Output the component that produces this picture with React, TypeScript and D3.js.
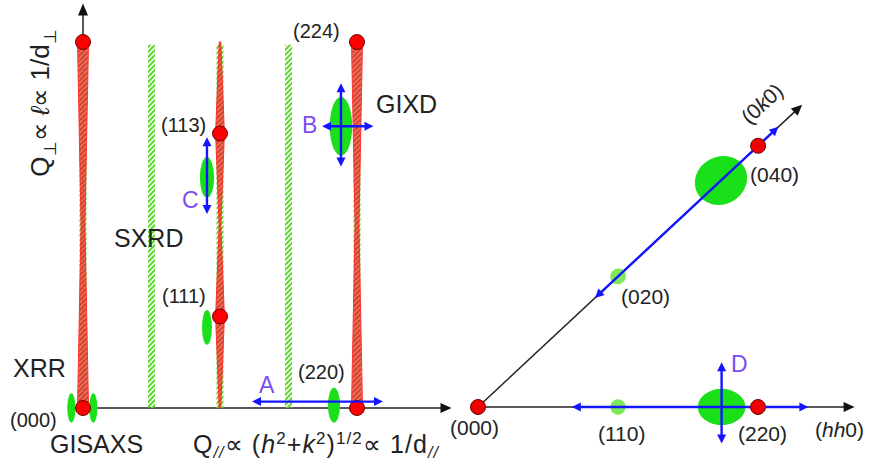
import * as d3 from 'd3';

const W = 871;
const H = 466;

// ---- left panel: reciprocal space, h of (hhℓ) along Q//, ℓ along Q⊥
const rodH = [0, 1, 2]; // crystal truncation rods (red)
const sxrdRodH = [0, 0.5, 1, 1.5, 2]; // superstructure rods (green hatched)
// relative rod intensity [ℓ, I] per rod
const rodProfiles = [
  [[0, 1], [2, 0.35], [4, 1]],
  [[0, 0.15], [1, 0.8], [2, 0.15], [3, 0.8], [4, 0.15]],
  [[0, 1], [2, 0.35], [4, 1]],
];
const braggPeaks = [
  { h: 0, l: 0, label: '(000)' },
  { h: 0, l: 4, label: '' },
  { h: 1, l: 1, label: '(111)' },
  { h: 1, l: 3, label: '(113)' },
  { h: 2, l: 0, label: '(220)' },
  { h: 2, l: 4, label: '(224)' },
];
// diffuse / film spots: centre (h, ℓ), half widths (dh, dℓ)
const filmSpots = [
  { h: -0.085, l: 0, dh: 0.03, dl: 0.16 },
  { h: 0.075, l: 0, dh: 0.03, dl: 0.16 },
  { h: 0.905, l: 0.88, dh: 0.036, dl: 0.19 },
  { h: 0.905, l: 2.52, dh: 0.052, dl: 0.22 },
  { h: 1.883, l: 3.08, dh: 0.082, dl: 0.32 },
  { h: 1.832, l: 0.03, dh: 0.044, dl: 0.19 },
];
// scans: along h (at fixed ℓ) or along ℓ (at fixed h)
const scansLeft = [
  { dir: 'h', at: 0.07, from: 1.234, to: 2.19 },
  { dir: 'h', at: 3.08, from: 1.745, to: 2.12 },
  { dir: 'l', at: 1.883, from: 2.64, to: 3.55 },
  { dir: 'l', at: 0.905, from: 2.12, to: 2.96 },
];
const scanNames = ['A', 'B', 'C', 'D'];
const techniques = ['XRR', 'SXRD', 'GIXD', 'GISAXS'];

// ---- right panel: in-plane map, (hh0) horizontal, (0k0) oblique
const hhPeaks = [
  { h: 0, label: '(000)' },
  { h: 2, label: '(220)' },
];
const kPeaks = [{ k: 4, label: '(040)' }];
const hhSpots = [
  { h: 1, dh: 0.055, dp: 0.055, label: '(110)' },
  { h: 1.74, dh: 0.17, dp: 0.13, label: '' },
];
const kSpots = [
  { k: 2, dk: 0.085, dp: 0.055, label: '(020)' },
  { k: 3.47, dk: 0.28, dp: 0.17, label: '' },
];
const hhScan = { from: 0.67, to: 2.36, at: 1.74, perpFrom: -0.26, perpTo: 0.32 };
const kScan = { from: 1.67, to: 4.29 };

const ink = '#222';
const blue = '#1414ff';
const violet = '#7b4cf2';
const green = '#19e019';
const font = "'Liberation Sans', Arial, sans-serif";

function head(x: number, y: number, ang: number, len = 9, wid = 4.5, color = blue) {
  const c = Math.cos(ang), s = Math.sin(ang);
  const bx = x - c * len, by = y - s * len;
  const pts = [
    [x, y],
    [bx - s * wid, by + c * wid],
    [bx + s * wid, by - c * wid],
  ];
  return <polygon points={pts.map((p) => p.join(',')).join(' ')} fill={color} />;
}

function dblArrow(x1: number, y1: number, x2: number, y2: number, key: string) {
  const ang = Math.atan2(y2 - y1, x2 - x1);
  const c = Math.cos(ang), s = Math.sin(ang);
  const cut = 6;
  return (
    <g key={key}>
      <line x1={x1 + c * cut} y1={y1 + s * cut} x2={x2 - c * cut} y2={y2 - s * cut} stroke={blue} strokeWidth={2.4} />
      {head(x2, y2, ang)}
      {head(x1, y1, ang + Math.PI)}
    </g>
  );
}

export default function App() {
  const xL = d3.scaleLinear().domain([0, 2]).range([83, 357]);
  const yL = d3.scaleLinear().domain([0, 4]).range([408, 42]);
  const wI = d3.scaleLinear().domain([0, 1]).range([0, 5.5]);

  const xR = d3.scaleLinear().domain([0, 2]).range([478, 758]);
  const yR = d3.scaleLinear().domain([0, 1]).range([407, 267]);
  const kR = d3.scaleLinear().domain([0, 4]).range([0, 383]);
  const kAng = (-43 * Math.PI) / 180;
  const kPt = (k: number): [number, number] => [
    xR(0) + kR(k) * Math.cos(kAng),
    yR(0) + kR(k) * Math.sin(kAng),
  ];

  const rodArea = (h: number) =>
    d3
      .area<number[]>()
      .y((d) => yL(d[0]))
      .x0((d) => xL(h) - wI(d[1]))
      .x1((d) => xL(h) + wI(d[1]));

  const peakLabelPos: Record<string, [number, number]> = {
    '(000)': [-73, 19],
    '(111)': [-58, -14],
    '(113)': [-59, -2],
    '(220)': [-59, -29],
    '(224)': [-64, -4],
  };
  const namePos: [number, number][] = [
    [259, 393],
    [302, 133],
    [182, 208],
    [731, 372],
  ];
  const techPos: [number, number][] = [
    [13, 377],
    [114, 247],
    [376, 113],
    [50, 453],
  ];

  const k0 = kPt(0);
  const kEnd = kPt(4.63);

  return (
    <svg
      width={W}
      height={H}
      viewBox={`0 0 ${W} ${H}`}
      style={{ position: 'absolute', left: 0, top: 0, background: '#fff', fontFamily: font }}
    >
      <defs>
        <pattern id="redHatch" width={5} height={5} patternUnits="userSpaceOnUse">
          <rect width={5} height={5} fill="#ff5b4e" />
          <path d="M-1,6 L6,-1 M-1,1 L1,-1 M4,6 L6,4" stroke="#b8402c" strokeWidth={1.4} />
        </pattern>
        <pattern id="greenHatch" width={5} height={5} patternUnits="userSpaceOnUse">
          <path d="M-1,6 L6,-1 M-1,1 L1,-1 M4,6 L6,4" stroke="#5fd830" strokeWidth={2} />
        </pattern>
      </defs>

      {/* ===== left panel ===== */}
      {/* axes */}
      <line x1={xL(0)} y1={yL(0)} x2={xL(0)} y2={yL(4.3)} stroke={ink} strokeWidth={1.5} />
      {head(xL(0), yL(4.42), -Math.PI / 2, 12, 5, '#111')}
      <line x1={xL(0)} y1={yL(0)} x2={xL(2.62)} y2={yL(0)} stroke={ink} strokeWidth={1.5} />
      {head(xL(2.69), yL(0), 0, 11, 5, '#111')}

      {/* SXRD rods */}
      {sxrdRodH.map((h) => (
        <rect key={'s' + h} x={xL(h) - 3.5} y={yL(3.97)} width={7} height={yL(0) - yL(3.97)} fill="url(#greenHatch)" />
      ))}

      {/* CTRs */}
      {rodH.map((h, i) => (
        <path
          key={'r' + h}
          d={rodArea(h)(rodProfiles[i]) ?? ''}
          fill="url(#redHatch)"
          stroke="#ff2a24"
          strokeWidth={1}
          opacity={0.95}
        />
      ))}

      {/* film spots */}
      {filmSpots.map((s, i) => (
        <ellipse
          key={'f' + i}
          cx={xL(s.h)}
          cy={yL(s.l)}
          rx={xL(s.dh) - xL(0)}
          ry={yL(0) - yL(s.dl)}
          fill={green}
        />
      ))}

      {/* Bragg peaks */}
      {braggPeaks.map((p, i) => (
        <g key={'b' + i}>
          <circle cx={xL(p.h)} cy={yL(p.l)} r={7.5} fill="#ff0000" stroke="#6e0000" strokeWidth={1} />
          {p.label && (
            <text
              x={xL(p.h) + peakLabelPos[p.label][0]}
              y={yL(p.l) + peakLabelPos[p.label][1]}
              fontSize={20}
              fill={ink}
            >
              {p.label}
            </text>
          )}
        </g>
      ))}

      {/* scans */}
      {scansLeft.map((s, i) =>
        s.dir === 'h'
          ? dblArrow(xL(s.from), yL(s.at), xL(s.to), yL(s.at), 'sc' + i)
          : dblArrow(xL(s.at), yL(s.from), xL(s.at), yL(s.to), 'sc' + i),
      )}

      {scanNames.map((n, i) => (
        <text key={n} x={namePos[i][0]} y={namePos[i][1]} fontSize={23} fill={violet}>
          {n}
        </text>
      ))}
      {techniques.map((t, i) => (
        <text key={t} x={techPos[i][0]} y={techPos[i][1]} fontSize={25} fill={ink}>
          {t}
        </text>
      ))}

      {/* axis titles */}
      <text transform="translate(49,103) rotate(-90)" textAnchor="middle" fontSize={26} fill={ink}>
        Q<tspan dy={7} fontSize={17}>⊥</tspan>
        <tspan dy={-7}>∝ </tspan>
        <tspan fontStyle="italic">ℓ</tspan>
        <tspan>∝ 1/d</tspan>
        <tspan dy={7} fontSize={17}>⊥</tspan>
      </text>
      <text x={193} y={453} fontSize={25} fill={ink} textLength={245} lengthAdjust="spacing">
        Q<tspan dy={5} fontSize={16} fontStyle="italic">//</tspan>
        <tspan dy={-5}>∝ (</tspan>
        <tspan fontStyle="italic">h</tspan>
        <tspan dy={-9} fontSize={17}>2</tspan>
        <tspan dy={9}>+</tspan>
        <tspan fontStyle="italic">k</tspan>
        <tspan dy={-9} fontSize={17}>2</tspan>
        <tspan dy={9}>)</tspan>
        <tspan dy={-9} fontSize={17}>1/2</tspan>
        <tspan dy={9}>∝ 1/d</tspan>
        <tspan dy={5} fontSize={16} fontStyle="italic">//</tspan>
      </text>

      {/* ===== right panel ===== */}
      <line x1={xR(0)} y1={yR(0)} x2={xR(2.62)} y2={yR(0)} stroke={ink} strokeWidth={1.5} />
      {head(xR(2.69), yR(0), 0, 11, 5, '#111')}
      <line x1={k0[0]} y1={k0[1]} x2={kPt(4.52)[0]} y2={kPt(4.52)[1]} stroke={ink} strokeWidth={1.5} />
      {head(kEnd[0], kEnd[1], kAng, 11, 5, '#111')}

      {hhSpots.map((s, i) => (
        <ellipse
          key={'hs' + i}
          cx={xR(s.h)}
          cy={yR(0)}
          rx={xR(s.dh) - xR(0)}
          ry={yR(0) - yR(s.dp)}
          fill={s.label ? '#7ee85a' : green}
        />
      ))}
      {kSpots.map((s, i) => {
        const [cx, cy] = kPt(s.k);
        return (
          <ellipse
            key={'ks' + i}
            cx={cx}
            cy={cy}
            rx={kR(s.dk)}
            ry={yR(0) - yR(s.dp)}
            transform={`rotate(${s.label ? -43 : -28},${cx},${cy})`}
            fill={s.label ? '#7ee85a' : green}
          />
        );
      })}

      {dblArrow(xR(hhScan.from), yR(0), xR(hhScan.to), yR(0), 'hhscan')}
      {dblArrow(xR(hhScan.at), yR(hhScan.perpTo), xR(hhScan.at), yR(hhScan.perpFrom), 'perp')}
      {dblArrow(kPt(kScan.from)[0], kPt(kScan.from)[1], kPt(kScan.to)[0], kPt(kScan.to)[1], 'kscan')}

      {hhPeaks.map((p) => (
        <circle key={p.label} cx={xR(p.h)} cy={yR(0)} r={7.5} fill="#f00000" stroke="#6e0000" strokeWidth={1} />
      ))}
      {kPeaks.map((p) => (
        <circle key={p.label} cx={kPt(p.k)[0]} cy={kPt(p.k)[1]} r={7.5} fill="#f00000" stroke="#6e0000" strokeWidth={1} />
      ))}

      <g fontSize={21} fill={ink}>
        <text x={xR(0) - 28} y={435}>{hhPeaks[0].label}</text>
        <text x={xR(1) - 20} y={441}>{hhSpots[0].label}</text>
        <text x={xR(2) - 20} y={441}>{hhPeaks[1].label}</text>
        <text x={kPt(4)[0] - 8} y={kPt(4)[1] + 36}>{kPeaks[0].label}</text>
        <text x={kPt(2)[0] + 3} y={kPt(2)[1] + 28}>{kSpots[0].label}</text>
        <text x={815} y={437}>
          (<tspan fontStyle="italic">hh</tspan>0)
        </text>
        <text transform="translate(767,109) rotate(-43)" textAnchor="middle">
          (0<tspan fontStyle="italic">k</tspan>0)
        </text>
      </g>
    </svg>
  );
}
